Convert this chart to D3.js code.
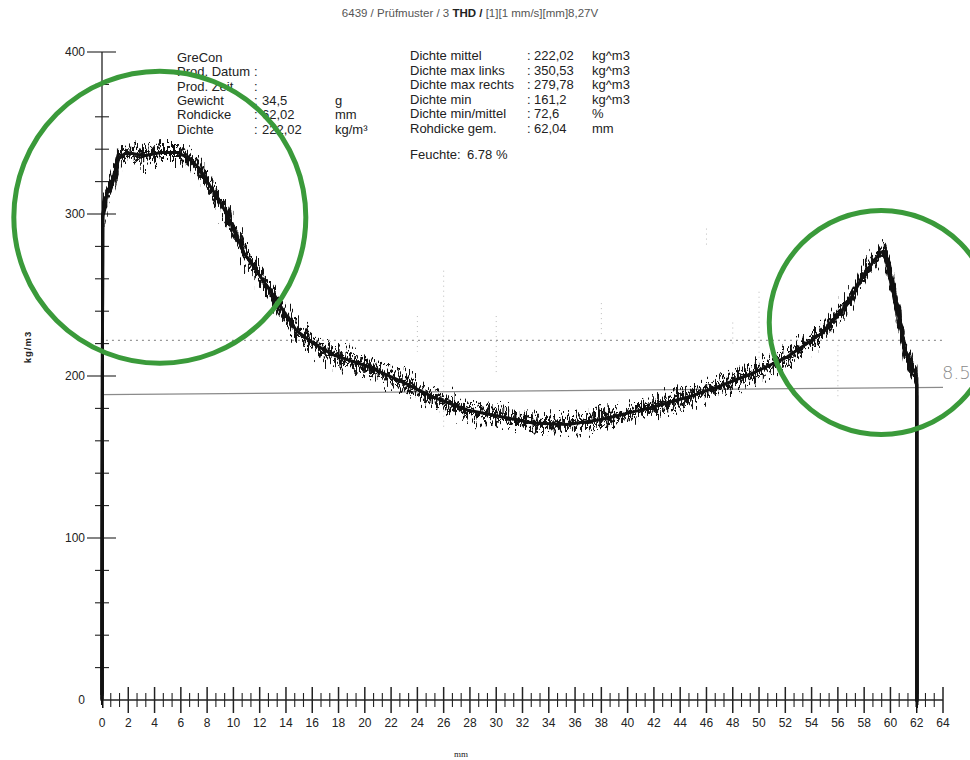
<!DOCTYPE html>
<html lang="de">
<head>
<meta charset="UTF-8">
<title>Rohdichteprofil 6439</title>
<script src="https://d3js.org/d3.v7.min.js"></script>
<style>
  body { margin: 0; background: #fff; }
  svg { display: block; }
  text { font-family: "Liberation Sans", Arial, sans-serif; fill: #222; }
</style>
</head>
<body>
<div id="chart"></div>
<script>

// density profile (mm -> kg/m3)
var profileMm    = [0, 0.05, 0.4, 0.9, 1.3, 1.9, 3.2, 4.5, 5.7, 6.5, 7.3, 8.0, 8.8, 9.5, 10.8, 12.6, 14.8, 16.3, 17.6, 20.2, 22.7, 25.2, 27.8, 30.3, 32.8, 35.4, 37.9, 40.5, 42.0, 44.6, 47.1, 49.6, 52.2, 54.7, 56.8, 58.0, 59.2, 59.5, 59.8, 60.6, 61.1, 61.6, 61.9, 62.0, 62.02];
var profileValue = [0, 300, 313, 323, 335, 338, 336, 338, 338, 335, 329, 320, 310, 300, 276, 255, 228, 219, 213, 206, 197, 187, 179, 175, 171, 170, 173, 178, 181, 187, 194, 202, 212, 226, 245, 263, 276, 277, 270, 239, 216, 206, 202, 195, 0];

// reference lines
var meanDensity = 222.02;
var limitMm = [0, 64];
var limitValue = [188.5, 193];
var limitLabel = "8.5";

// axis ticks
var xMajorTicks = d3.range(0, 65, 2);
var yMajorTicks = [0, 100, 200, 300, 400];
var yMinorTicks = d3.range(0, 401, 20);

var titleText = ["6439 / Prüfmuster / 3  ", "THD / ", "[1][1 mm/s][mm]8,27V"];

var leftLabels = ["GreCon", "Prod. Datum", "Prod. Zeit", "Gewicht", "Rohdicke", "Dichte"];
var leftColons = [false, true, true, true, true, true];
var leftValues = ["", "", "", "34,5", "62,02", "222,02"];
var leftUnits  = ["", "", "", "g", "mm", "kg/m³"];

var rightLabels = ["Dichte mittel", "Dichte max links", "Dichte max rechts", "Dichte min", "Dichte min/mittel", "Rohdicke gem."];
var rightValues = ["222,02", "350,53", "279,78", "161,2", "72,6", "62,04"];
var rightUnits  = ["kg^m3", "kg^m3", "kg^m3", "kg^m3", "%", "mm"];
var moisture = "6.78 %";

// faint dotted grid remains on the scan (mm, from, to in kg/m3)
var gridMm   = [24, 26, 30, 38, 46, 48, 50, 56];
var gridFrom = [215, 168, 202, 225, 280, 218, 205, 185];
var gridTo   = [237, 265, 237, 245, 291, 233, 252, 219];

// hand-drawn highlight circles (mm, kg/m3, radius px)
var marks = [{mm: 4.4, v: 298, r: 146}, {mm: 59.3, v: 233, r: 112}];

var W = 970, H = 760;
var x = d3.scaleLinear().domain([0, 64]).range([102, 943]);
var y = d3.scaleLinear().domain([0, 400]).range([700, 52]);

var svg = d3.select("#chart").append("svg").attr("width", W).attr("height", H);

// jagged look of the raw signal (render effect only)
var defs = svg.append("defs");
var f = defs.append("filter").attr("id", "jag")
    .attr("x", "-5%").attr("y", "-20%").attr("width", "110%").attr("height", "140%")
    .attr("color-interpolation-filters", "sRGB");
function jitter(freq, seed, scale, name) {
    f.append("feTurbulence").attr("type", "fractalNoise").attr("baseFrequency", freq)
        .attr("numOctaves", 2).attr("seed", seed).attr("result", "t" + name);
    f.append("feColorMatrix").attr("in", "t" + name).attr("type", "matrix")
        .attr("values", "0 0 0 0 0.5  0 1 0 0 0  0 0 0 0 0  0 0 0 0 1").attr("result", "m" + name);
    f.append("feDisplacementMap").attr("in", "SourceGraphic").attr("in2", "m" + name).attr("scale", scale)
        .attr("xChannelSelector", "R").attr("yChannelSelector", "G").attr("result", "d" + name);
}
jitter("0.45 0.05", 4, 58, "a");
jitter("0.4 0.06", 11, -50, "b");
jitter("0.6 0.04", 27, 40, "c");
jitter("0.35 0.05", 41, -30, "e");
var merge = f.append("feMerge");
["da", "db", "dc", "de", "SourceGraphic"].forEach(function(n) {
    merge.append("feMergeNode").attr("in", n);
});

// title
var title = svg.append("text").attr("x", 470).attr("y", 17).attr("text-anchor", "middle")
    .style("font-size", "11.5px");
title.append("tspan").text(titleText[0]).style("fill", "#555");
title.append("tspan").text(titleText[1]).style("fill", "#222").style("font-weight", "bold");
title.append("tspan").text(titleText[2]).style("fill", "#555");

// info blocks
var info = svg.append("g").style("font-size", "13px");
leftLabels.forEach(function(d, i) {
    var by = 62 + i * 14.3;
    info.append("text").attr("x", 177).attr("y", by).text(d);
    if (leftColons[i]) info.append("text").attr("x", 254).attr("y", by).text(":");
    info.append("text").attr("x", 262).attr("y", by).text(leftValues[i]);
    info.append("text").attr("x", 335).attr("y", by).text(leftUnits[i]);
});
rightLabels.forEach(function(d, i) {
    var by = 60 + i * 14.5;
    info.append("text").attr("x", 410).attr("y", by).text(d);
    info.append("text").attr("x", 527).attr("y", by).text(":");
    info.append("text").attr("x", 534).attr("y", by).text(rightValues[i]);
    info.append("text").attr("x", 592).attr("y", by).text(rightUnits[i]);
});
info.append("text").attr("x", 410).attr("y", 159).text("Feuchte:");
info.append("text").attr("x", 467).attr("y", 159).text(moisture);

// faint grid remains
svg.append("g").selectAll("line").data(gridMm).join("line")
    .attr("x1", function(d) { return x(d); }).attr("x2", function(d) { return x(d); })
    .attr("y1", function(d, i) { return y(gridTo[i]); })
    .attr("y2", function(d, i) { return y(gridFrom[i]); })
    .attr("stroke", "#bbb").attr("stroke-width", 1).attr("stroke-dasharray", "1,4");

// mean density line (dotted)
svg.append("line")
    .attr("x1", x(0.3)).attr("x2", x(64))
    .attr("y1", y(meanDensity)).attr("y2", y(meanDensity))
    .attr("stroke", "#999").attr("stroke-width", 1.2).attr("stroke-dasharray", "2,4");

// limit line
svg.append("line")
    .attr("x1", x(limitMm[0])).attr("x2", x(limitMm[1]))
    .attr("y1", y(limitValue[0])).attr("y2", y(limitValue[1]))
    .attr("stroke", "#8a8a8a").attr("stroke-width", 1.3);
svg.append("text").attr("x", 942).attr("y", y(limitValue[1]) - 8)
    .style("font-family", "'DejaVu Sans', sans-serif").style("font-weight", 200)
    .style("font-size", "18px").style("fill", "#8a8a8a").text(limitLabel);

// y axis
var yAxis = svg.append("g").attr("stroke", "#222");
yAxis.append("line").attr("x1", x(0)).attr("x2", x(0)).attr("y1", y(400)).attr("y2", y(0))
    .attr("stroke-width", 1.3);
yAxis.selectAll("line.minor").data(yMinorTicks.filter(function(d) { return d % 100; })).join("line")
    .attr("class", "minor")
    .attr("x1", x(0) - 7).attr("x2", x(0) + 7)
    .attr("y1", function(d) { return y(d); }).attr("y2", function(d) { return y(d); })
    .attr("stroke-width", 1.1);
yAxis.selectAll("line.major").data(yMajorTicks.filter(function(d) { return d > 0; })).join("line")
    .attr("class", "major")
    .attr("x1", x(0) - 15).attr("x2", x(0) + 14)
    .attr("y1", function(d) { return y(d); }).attr("y2", function(d) { return y(d); })
    .attr("stroke-width", 1.1);
svg.append("g").selectAll("text").data(yMajorTicks).join("text")
    .attr("x", 85).attr("y", function(d) { return y(d); }).attr("dy", "0.35em")
    .attr("text-anchor", "end").style("font-size", "12px")
    .text(function(d) { return d; });

// x axis
var xg = svg.append("g").attr("stroke", "#222");
xg.append("line").attr("x1", x(0)).attr("x2", x(64)).attr("y1", y(0)).attr("y2", y(0))
    .attr("stroke-width", 1.3);
var xMinor = [];
xMajorTicks.slice(0, -1).forEach(function(d) { xMinor.push(d + 2 / 3, d + 4 / 3); });
xg.selectAll("line.minor").data(xMinor).join("line").attr("class", "minor")
    .attr("x1", function(d) { return x(d); }).attr("x2", function(d) { return x(d); })
    .attr("y1", y(0) - 7).attr("y2", y(0) + 7).attr("stroke-width", 1.1);
xg.selectAll("line.major").data(xMajorTicks.slice(1)).join("line").attr("class", "major")
    .attr("x1", function(d) { return x(d); }).attr("x2", function(d) { return x(d); })
    .attr("y1", y(0) - 13).attr("y2", y(0) + 13).attr("stroke-width", 1.5);
svg.append("g").selectAll("text").data(xMajorTicks).join("text")
    .attr("x", function(d) { return x(d); }).attr("y", 727)
    .attr("text-anchor", "middle").style("font-size", "12px")
    .text(function(d) { return d; });

// axis titles
svg.append("text").attr("transform", "translate(31,347) rotate(-90)")
    .attr("text-anchor", "middle").style("font-size", "9.5px").style("font-weight", "bold")
    .style("letter-spacing", "1px").text("kg/m3");
svg.append("text").attr("x", 461).attr("y", 757).attr("text-anchor", "middle")
    .style("font-family", "'Liberation Serif', serif").style("font-size", "9px").text("mm");

// density profile
var line = d3.line()
    .x(function(d, i) { return x(profileMm[i]); })
    .y(function(d) { return y(d); });
svg.append("path").datum(profileValue)
    .attr("d", line)
    .attr("fill", "none").attr("stroke", "#111").attr("stroke-width", 3)
    .attr("stroke-linejoin", "round")
    .attr("filter", "url(#jag)");

// highlight circles
svg.append("g").selectAll("circle").data(marks).join("circle")
    .attr("cx", function(d) { return x(d.mm); })
    .attr("cy", function(d) { return y(d.v); })
    .attr("r", function(d) { return d.r; })
    .attr("fill", "none").attr("stroke", "#3a9a3a").attr("stroke-width", 5);

</script>
</body>
</html>
